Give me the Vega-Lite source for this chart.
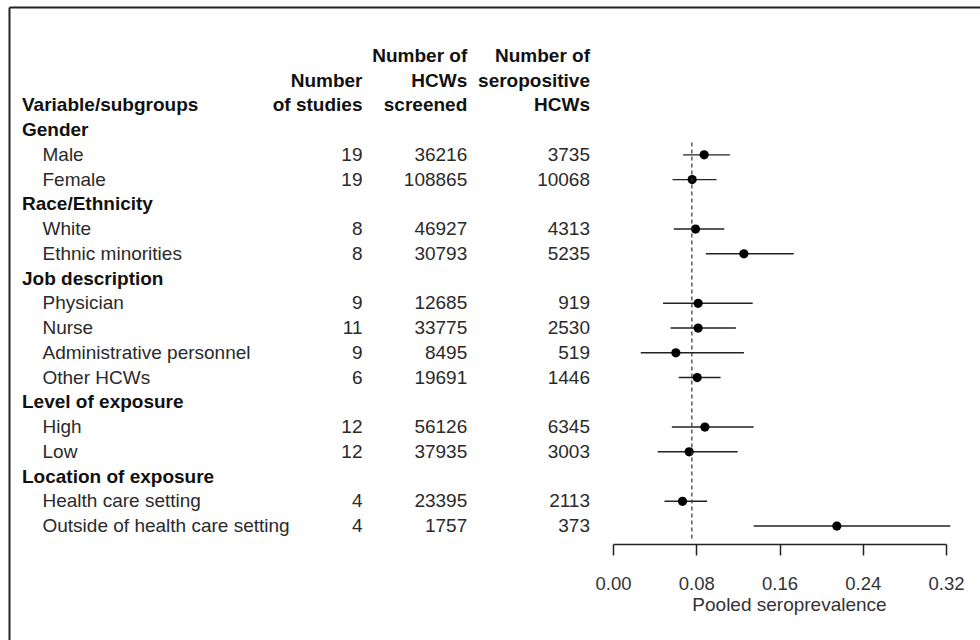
{
  "$schema": "https://vega.github.io/schema/vega-lite/v6.json",
  "width": 971,
  "height": 633,
  "autosize": {"type": "none"},
  "padding": {"left": 9, "top": 7, "right": 0, "bottom": 0},
  "background": "white",
  "config": {
    "view": {"stroke": null},
    "font": "Liberation Sans",
    "text": {"font": "Liberation Sans"},
    "axis": {"labelFont": "Liberation Sans", "titleFont": "Liberation Sans"}
  },
  "datasets": {
    "rows": [
      {"row": "Gender", "kind": "group"},
      {"row": "Male", "kind": "sub", "studies": 19, "screened": 36216, "seropositive": 3735, "est": 0.0876, "lo": 0.0674, "hi": 0.1123},
      {"row": "Female", "kind": "sub", "studies": 19, "screened": 108865, "seropositive": 10068, "est": 0.0761, "lo": 0.0572, "hi": 0.0995},
      {"row": "Race/Ethnicity", "kind": "group"},
      {"row": "White", "kind": "sub", "studies": 8, "screened": 46927, "seropositive": 4313, "est": 0.0793, "lo": 0.0584, "hi": 0.1069},
      {"row": "Ethnic minorities", "kind": "sub", "studies": 8, "screened": 30793, "seropositive": 5235, "est": 0.1258, "lo": 0.0892, "hi": 0.1737},
      {"row": "Job description", "kind": "group"},
      {"row": "Physician", "kind": "sub", "studies": 9, "screened": 12685, "seropositive": 919, "est": 0.0818, "lo": 0.0481, "hi": 0.1342},
      {"row": "Nurse", "kind": "sub", "studies": 11, "screened": 33775, "seropositive": 2530, "est": 0.0818, "lo": 0.0553, "hi": 0.1181},
      {"row": "Administrative personnel", "kind": "sub", "studies": 9, "screened": 8495, "seropositive": 519, "est": 0.0604, "lo": 0.0267, "hi": 0.1258},
      {"row": "Other HCWs", "kind": "sub", "studies": 6, "screened": 19691, "seropositive": 1446, "est": 0.0809, "lo": 0.0632, "hi": 0.1034},
      {"row": "Level of exposure", "kind": "group"},
      {"row": "High", "kind": "sub", "studies": 12, "screened": 56126, "seropositive": 6345, "est": 0.0883, "lo": 0.0565, "hi": 0.1352},
      {"row": "Low", "kind": "sub", "studies": 12, "screened": 37935, "seropositive": 3003, "est": 0.0732, "lo": 0.043, "hi": 0.1198},
      {"row": "Location of exposure", "kind": "group"},
      {"row": "Health care setting", "kind": "sub", "studies": 4, "screened": 23395, "seropositive": 2113, "est": 0.0668, "lo": 0.0495, "hi": 0.0905},
      {"row": "Outside of health care setting", "kind": "sub", "studies": 4, "screened": 1757, "seropositive": 373, "est": 0.2151, "lo": 0.1352, "hi": 0.3241}
    ],
    "headers": [
      {"row": "h3", "col": "label", "text": "Variable/subgroups"},
      {"row": "h2", "col": "studies", "text": "Number"},
      {"row": "h3", "col": "studies", "text": "of studies"},
      {"row": "h1", "col": "screened", "text": "Number of"},
      {"row": "h2", "col": "screened", "text": "HCWs"},
      {"row": "h3", "col": "screened", "text": "screened"},
      {"row": "h1", "col": "seropositive", "text": "Number of"},
      {"row": "h2", "col": "seropositive", "text": "seropositive"},
      {"row": "h3", "col": "seropositive", "text": "HCWs"}
    ],
    "pooled": [{"pooled": 0.0758}]
  },
  "encoding": {
    "y": {
      "field": "row",
      "type": "nominal",
      "scale": {
        "type": "band",
        "domain": ["top", "h1", "h2", "h3", "Gender", "Male", "Female", "Race/Ethnicity", "White", "Ethnic minorities", "Job description", "Physician", "Nurse", "Administrative personnel", "Other HCWs", "Level of exposure", "High", "Low", "Location of exposure", "Health care setting", "Outside of health care setting", "axis", "ticklabels", "title"],
        "paddingInner": 0,
        "paddingOuter": 0.788,
        "align": 0.3
      },
      "axis": {"orient": "left", "labels": false, "ticks": false, "grid": false, "title": null, "domainColor": "#222", "domainWidth": 2}
    }
  },
  "resolve": {"scale": {"x": "independent"}, "axis": {"x": "independent"}},
  "layer": [
    {
      "encoding": {
        "x": {"datum": 0, "type": "quantitative", "scale": {"domain": [0, 1]}, "axis": {"orient": "top", "labels": false, "ticks": false, "grid": false, "title": null, "domainColor": "#222", "domainWidth": 2}}
      },
      "layer": [
        {
          "data": {"name": "rows"},
          "transform": [{"filter": "datum.kind === 'group'"}],
          "mark": {"type": "text", "align": "left", "dx": 13, "fontSize": 19, "fontWeight": "bold", "color": "#111"},
          "encoding": {"text": {"field": "row"}}
        },
        {
          "data": {"name": "headers"},
          "transform": [{"filter": "datum.col === 'label'"}],
          "mark": {"type": "text", "align": "left", "dx": 13, "fontSize": 19, "fontWeight": "bold", "color": "#111"},
          "encoding": {"text": {"field": "text"}}
        },
        {
          "data": {"name": "rows"},
          "transform": [{"filter": "datum.kind === 'sub'"}],
          "mark": {"type": "text", "align": "left", "dx": 33.5, "fontSize": 19, "color": "#2a2a2a"},
          "encoding": {"text": {"field": "row"}}
        }
      ]
    },
    {
      "layer": [
        {
          "data": {"name": "rows"},
          "transform": [{"filter": "datum.kind === 'sub'"}],
          "mark": {"type": "text", "align": "right", "fontSize": 19, "color": "#2a2a2a"},
          "encoding": {
            "x": {"datum": "studies", "type": "nominal", "scale": {"type": "point", "domain": ["studies", "screened", "seropositive"], "range": [353.5, 581], "padding": 0}, "axis": null},
            "text": {"field": "studies", "type": "quantitative", "format": "d"}
          }
        },
        {
          "data": {"name": "rows"},
          "transform": [{"filter": "datum.kind === 'sub'"}],
          "mark": {"type": "text", "align": "right", "dx": -9, "fontSize": 19, "color": "#2a2a2a"},
          "encoding": {
            "x": {"datum": "screened", "type": "nominal", "scale": {"type": "point", "domain": ["studies", "screened", "seropositive"], "range": [353.5, 581], "padding": 0}, "axis": null},
            "text": {"field": "screened", "type": "quantitative", "format": "d"}
          }
        },
        {
          "data": {"name": "rows"},
          "transform": [{"filter": "datum.kind === 'sub'"}],
          "mark": {"type": "text", "align": "right", "fontSize": 19, "color": "#2a2a2a"},
          "encoding": {
            "x": {"datum": "seropositive", "type": "nominal", "scale": {"type": "point", "domain": ["studies", "screened", "seropositive"], "range": [353.5, 581], "padding": 0}, "axis": null},
            "text": {"field": "seropositive", "type": "quantitative", "format": "d"}
          }
        },
        {
          "data": {"name": "headers"},
          "transform": [{"filter": "datum.col === 'studies' || datum.col === 'seropositive'"}],
          "mark": {"type": "text", "align": "right", "fontSize": 19, "fontWeight": "bold", "color": "#111"},
          "encoding": {
            "x": {"field": "col", "type": "nominal", "scale": {"type": "point", "domain": ["studies", "screened", "seropositive"], "range": [353.5, 581], "padding": 0}, "axis": null},
            "text": {"field": "text"}
          }
        },
        {
          "data": {"name": "headers"},
          "transform": [{"filter": "datum.col === 'screened'"}],
          "mark": {"type": "text", "align": "right", "dx": -9, "fontSize": 19, "fontWeight": "bold", "color": "#111"},
          "encoding": {
            "x": {"field": "col", "type": "nominal", "scale": {"type": "point", "domain": ["studies", "screened", "seropositive"], "range": [353.5, 581], "padding": 0}, "axis": null},
            "text": {"field": "text"}
          }
        }
      ]
    },
    {
      "layer": [
        {
          "data": {"name": "rows"},
          "transform": [{"filter": "datum.kind === 'sub'"}],
          "mark": {"type": "rule", "color": "#222", "strokeWidth": 1.4},
          "encoding": {
            "x": {"field": "lo", "type": "quantitative", "scale": {"domain": [0, 0.32], "range": [604, 937], "zero": false, "nice": false},
              "axis": {"orient": "bottom", "offset": -96, "values": [0, 0.08, 0.16, 0.24, 0.32], "format": ".2f", "grid": false, "domainColor": "#222", "domainWidth": 1.5, "tickColor": "#222", "tickWidth": 1.5, "tickSize": 11, "labelFontSize": 18.5, "labelColor": "#333", "labelPadding": 19, "labelFlush": false, "labelOverlap": false, "title": "Pooled seroprevalence", "titleFontSize": 19, "titleFontWeight": "normal", "titleColor": "#333", "titlePadding": 3, "titleX": 780}},
            "x2": {"field": "hi"}
          }
        },
        {
          "data": {"name": "rows"},
          "transform": [{"filter": "datum.kind === 'sub'"}],
          "mark": {"type": "circle", "size": 85, "color": "#000", "opacity": 1},
          "encoding": {
            "x": {"field": "est", "type": "quantitative", "scale": {"domain": [0, 0.32], "range": [604, 937], "zero": false, "nice": false},
              "axis": {"orient": "bottom", "offset": -96, "values": [0, 0.08, 0.16, 0.24, 0.32], "format": ".2f", "grid": false, "domainColor": "#222", "domainWidth": 1.5, "tickColor": "#222", "tickWidth": 1.5, "tickSize": 11, "labelFontSize": 18.5, "labelColor": "#333", "labelPadding": 19, "labelFlush": false, "labelOverlap": false, "title": "Pooled seroprevalence", "titleFontSize": 19, "titleFontWeight": "normal", "titleColor": "#333", "titlePadding": 3, "titleX": 780}}
          }
        },
        {
          "data": {"name": "pooled"},
          "mark": {"type": "rule", "color": "#333", "strokeWidth": 1.2, "strokeDash": [4, 3]},
          "encoding": {
            "x": {"field": "pooled", "type": "quantitative", "scale": {"domain": [0, 0.32], "range": [604, 937], "zero": false, "nice": false},
              "axis": {"orient": "bottom", "offset": -96, "values": [0, 0.08, 0.16, 0.24, 0.32], "format": ".2f", "grid": false, "domainColor": "#222", "domainWidth": 1.5, "tickColor": "#222", "tickWidth": 1.5, "tickSize": 11, "labelFontSize": 18.5, "labelColor": "#333", "labelPadding": 19, "labelFlush": false, "labelOverlap": false, "title": "Pooled seroprevalence", "titleFontSize": 19, "titleFontWeight": "normal", "titleColor": "#333", "titlePadding": 3, "titleX": 780}},
            "y": {"datum": "Male", "bandPosition": 0},
            "y2": {"datum": "Outside of health care setting", "bandPosition": 1}
          }
        }
      ]
    }
  ]
}
